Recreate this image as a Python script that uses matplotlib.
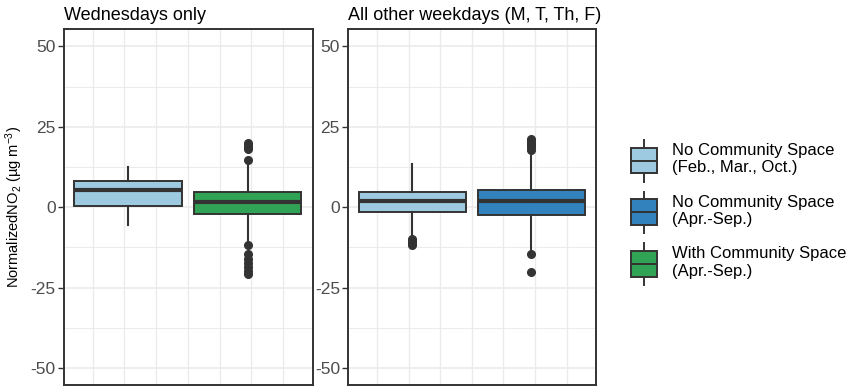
import matplotlib
matplotlib.use('Agg')
import matplotlib.pyplot as plt
from matplotlib.patches import Rectangle

plt.rcParams['font.family'] = ['Liberation Sans', 'DejaVu Sans']
plt.rcParams['mathtext.fontset'] = 'custom'
plt.rcParams['mathtext.rm'] = 'Liberation Sans'
plt.rcParams['mathtext.it'] = 'Liberation Sans:italic'

# ---- data ----
panel_titles = ['Wednesdays only', 'All other weekdays (M, T, Th, F)']
group_labels = ['No Community Space\n(Feb., Mar., Oct.)',
                'No Community Space\n(Apr.-Sep.)',
                'With Community Space\n(Apr.-Sep.)']
group_colors = ['#9ecae1', '#3182bd', '#31a354']

# Wednesdays: light blue + green
wed_groups = [0, 2]
wed_whislo = [-5.4, -10.4]
wed_q1 = [0.5, -2.0]
wed_med = [5.2, 1.7]
wed_q3 = [8.0, 4.6]
wed_whishi = [12.5, 13.5]
wed_fliers = [[],
              [14.7, 18.2, 18.8, 19.3, 19.8, -11.9, -14.7, -16.0, -17.4,
               -18.6, -19.7, -20.8]]

# other weekdays: light blue + dark blue
oth_groups = [0, 1]
oth_whislo = [-9.5, -13.4]
oth_q1 = [-1.4, -2.5]
oth_med = [1.9, 1.8]
oth_q3 = [4.6, 5.4]
oth_whishi = [13.3, 16.1]
oth_fliers = [[-10.0, -10.6, -11.2, -11.8],
              [17.9, 18.6, 19.3, 20.0, 20.7, 21.1, -14.5, -20.2]]

yticks = [-50, -25, 0, 25, 50]

# ---- layout ----
W, H = 850, 389
fig = plt.figure(figsize=(W / 100, H / 100), dpi=100)

edge = '#333333'
grid_c = '#ebebeb'
box_pos = [0.258, 0.738]
box_w = 0.432
vgrid = [0.1154 + k * 0.1277 for k in range(7)]

panels = [
    (64, 312.7, wed_groups, wed_whislo, wed_q1, wed_med, wed_q3, wed_whishi, wed_fliers),
    (348.3, 596, oth_groups, oth_whislo, oth_q1, oth_med, oth_q3, oth_whishi, oth_fliers),
]
top_px, bot_px = 29.3, 385

for i, (x0, x1, grp, lo, q1, med, q3, hi, fl) in enumerate(panels):
    ax = fig.add_axes([x0 / W, (H - bot_px) / H, (x1 - x0) / W, (bot_px - top_px) / H])
    ax.set_xlim(0, 1)
    ax.set_ylim(-55.3, 55.3)
    for g in [-37.5, -12.5, 12.5, 37.5]:
        ax.axhline(g, color=grid_c, lw=0.7, zorder=0)
    for g in yticks:
        ax.axhline(g, color=grid_c, lw=1.2, zorder=0)
    for g in vgrid:
        ax.axvline(g, color=grid_c, lw=1.0, zorder=0)

    stats = []
    for j in range(len(grp)):
        stats.append(dict(whislo=lo[j], q1=q1[j], med=med[j], q3=q3[j],
                          whishi=hi[j], fliers=fl[j]))
    bp = ax.bxp(stats, positions=box_pos, widths=box_w, patch_artist=True,
                showcaps=False, manage_ticks=False,
                boxprops=dict(edgecolor=edge, linewidth=1.4),
                medianprops=dict(color=edge, linewidth=3.0, solid_capstyle='butt'),
                whiskerprops=dict(color=edge, linewidth=1.5),
                flierprops=dict(marker='o', markerfacecolor=edge,
                                markeredgecolor=edge, markersize=5.5))
    for patch, g in zip(bp['boxes'], grp):
        patch.set_facecolor(group_colors[g])

    ax.set_xticks([])
    ax.set_yticks(yticks)
    ax.set_yticklabels([str(t) for t in yticks], fontsize=12.5, color='#4d4d4d')
    ax.tick_params(axis='y', length=4, width=1, color='#333333', pad=2)
    for s in ax.spines.values():
        s.set_color(edge)
        s.set_linewidth(1.4)
    ax.set_title(panel_titles[i], loc='left', fontsize=13, pad=7)
    if i == 0:
        ax.set_ylabel('NormalizedNO$_2$ (µg m$^{-3}$)', fontsize=10.5, labelpad=4)

# ---- legend ----
lax = fig.add_axes([600 / W, 0, 250 / W, 1])
lax.set_xlim(600, 850)
lax.set_ylim(H, 0)
lax.axis('off')
for k, (lab, col) in enumerate(zip(group_labels, group_colors)):
    cy = 160.5 + k * 51.7
    lax.plot([643.8, 643.8], [cy - 20.5, cy + 21], color=edge, lw=1.4)
    lax.add_patch(Rectangle((631, cy - 12.8), 25.7, 25.6, facecolor=col,
                            edgecolor=edge, lw=1.4, zorder=3))
    lax.plot([631, 656.7], [cy, cy], color=edge, lw=1.4, zorder=4)
    lax.text(672, cy - 1.5, lab, fontsize=12, va='center', ha='left', linespacing=1.2)

fig.savefig('out.png', dpi=100)
